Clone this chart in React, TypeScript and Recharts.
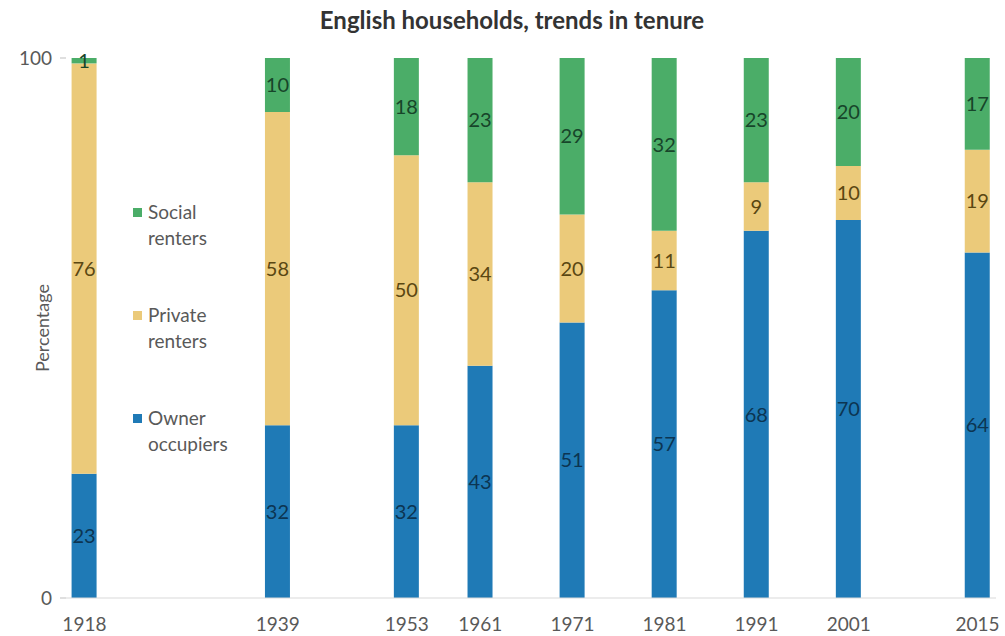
import React from 'react';
import { BarChart, Bar, XAxis, YAxis, Legend, LabelList } from 'recharts';

const years = [1918, 1939, 1953, 1961, 1971, 1981, 1991, 2001, 2015];
const ownerOccupiers = [23, 32, 32, 43, 51, 57, 68, 70, 64];
const privateRenters = [76, 58, 50, 34, 20, 11, 9, 10, 19];
const socialRenters = [1, 10, 18, 23, 29, 32, 23, 20, 17];
const yTicks = [0, 100];
const title = 'English households, trends in tenure';

const data = years.map((year, i) => ({
  year,
  owner: ownerOccupiers[i],
  private: privateRenters[i],
  social: socialRenters[i],
}));

const FONT = 'Lato, "Open Sans", sans-serif';
const BLUE = '#1f7ab6';
const YELLOW = '#ebca7a';
const GREEN = '#4bad68';

const LegendContent = (props: any) => {
  const items = [...(props.payload || [])].reverse();
  return (
    <div style={{ fontFamily: FONT }}>
      {items.map((it: any) => (
        <div key={it.value} style={{ display: 'flex', alignItems: 'flex-start', height: 103 }}>
          <div style={{ width: 9, height: 9, background: it.color, marginTop: 9, marginRight: 6, flex: 'none' }} />
          <div style={{ width: 100, fontSize: 19, lineHeight: '26px', color: '#595959' }}>{it.value}</div>
        </div>
      ))}
    </div>
  );
};

const PercentLabel = (props: any) => {
  const { viewBox } = props;
  const cx = viewBox.x + 42;
  const cy = viewBox.y + viewBox.height / 2;
  return (
    <text
      x={cx}
      y={cy}
      transform={`rotate(-90 ${cx} ${cy})`}
      textAnchor="middle"
      dominantBaseline="central"
      fontSize={18}
      fill="#595959"
      fontFamily={FONT}
    >
      Percentage
    </text>
  );
};

export default function App() {
  return (
    <div style={{ position: 'absolute', left: 0, top: 0, width: 1005, height: 636, background: '#fff', fontFamily: FONT }}>
      <div
        style={{
          position: 'absolute',
          left: 0,
          top: 5,
          width: 1024,
          textAlign: 'center',
          fontSize: 24,
          fontWeight: 700,
          color: '#333',
          fontFamily: FONT,
          lineHeight: '30px',
        }}
      >
        {title}
      </div>
      <BarChart width={1005} height={636} data={data} margin={{ top: 58, right: 9, left: 0, bottom: 0 }}>
        <XAxis
          dataKey="year"
          type="number"
          domain={[1916, 2017]}
          ticks={years}
          interval={0}
          height={38}
          axisLine={{ stroke: '#d9d9d9' }}
          tickLine={false}
          tickMargin={14}
          tick={{ fill: '#595959', fontSize: 19, fontFamily: FONT }}
        />
        <YAxis
          type="number"
          domain={[0, 100]}
          ticks={yTicks}
          width={66}
          axisLine={false}
          tickLine={{ stroke: '#bfbfbf' }}
          tickSize={6}
          tickMargin={8}
          tick={{ fill: '#595959', fontSize: 19, fontFamily: FONT }}
          label={<PercentLabel />}
        />
        <Legend
          layout="horizontal"
          verticalAlign="middle"
          align="center"
          content={<LegendContent />}
          wrapperStyle={{ left: 133, top: 199, width: 130 }}
        />
        <Bar dataKey="owner" name="Owner occupiers" stackId="a" fill={BLUE} barSize={25} isAnimationActive={false}>
          <LabelList dataKey="owner" position="center" fill="#0c3552" fontSize={20} fontFamily={FONT} />
        </Bar>
        <Bar dataKey="private" name="Private renters" stackId="a" fill={YELLOW} barSize={25} isAnimationActive={false}>
          <LabelList dataKey="private" position="center" fill="#5a4712" fontSize={20} fontFamily={FONT} />
        </Bar>
        <Bar dataKey="social" name="Social renters" stackId="a" fill={GREEN} barSize={25} isAnimationActive={false}>
          <LabelList dataKey="social" position="center" fill="#17452a" fontSize={20} fontFamily={FONT} />
        </Bar>
      </BarChart>
    </div>
  );
}
